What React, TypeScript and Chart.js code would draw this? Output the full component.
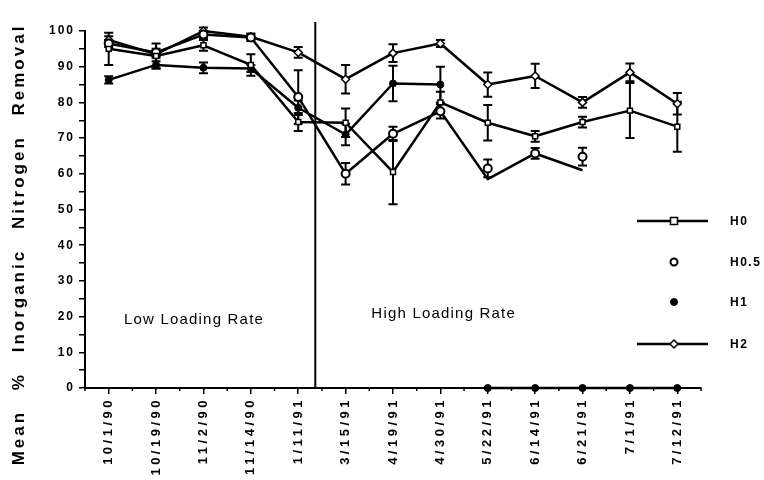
import React, { useEffect, useRef } from 'react';
import { Chart, registerables, CategoryScale, LinearScale } from 'chart.js';

// ---------- data ----------
const categories = ['10/1/90', '10/19/90', '11/2/90', '11/14/90', '1/11/91', '3/15/91', '4/19/91', '4/30/91', '5/22/91', '6/14/91', '6/21/91', '7/1/91', '7/12/91'];
const seriesNames = ['H0', 'H0.5', 'H1', 'H2'];

const h0 = [95, 93, 96, 90.5, 74.5, 74.3, 60.5, 80, 74.3, 70.5, 74.5, 77.7, 73.2];
const h0Err = [4.5, 3.5, 1.5, 3, 2.5, 4, 9, 3, 5, 1.5, 1.5, 7.7, 7];

const h05 = [96.5, 94, 99, 98.2, 81.5, 60, 71.2, 77.5, 58.5, 65.7, 61, null, null];
const h05Err = [1, 1, 1, 1, 7.5, 3, 2, 2, 0, 1.5, 0, null, null];
const h05Isolated = [null, null, null, null, null, null, null, null, 61.5, null, 64.8, null, null];
const h05IsolatedErr = [null, null, null, null, null, null, null, null, 2.5, null, 2.5, null, null];

const h1 = [86.3, 90.5, 89.7, 89.5, 78.5, 71, 85.3, 85, 0, 0, 0, 0, 0];
const h1Err = [1, 1, 1.5, 1, 2, 3, 5, 5, 0, 0, 0, 0, 0];

const h2 = [97.5, 93.5, 100, 98.4, 94, 86.5, 93.8, 96.5, 85, 87.4, 80, 88.4, 79.6];
const h2Err = [1, 1, 1, 0.8, 1.5, 4, 2.5, 1, 3.4, 3.4, 1.5, 2.5, 3];

const yMin = 0;
const yMax = 100;
const yStep = 5;
const yLabelStep = 10;

const dividerPosition = 4.36; // category index position of the Low/High divider
const annotations = [
  { text: 'Low Loading Rate', index: 1.8, value: 19 },
  { text: 'High Loading Rate', index: 7.07, value: 20.8 },
];

// ---------- custom spaced scales ----------
class SpacedCategoryScale extends CategoryScale {
  static id = 'spacedCategory';
  static defaults = CategoryScale.defaults;
  drawLabels(chartArea: any) {
    const ctx: any = this.ctx;
    ctx.save();
    ctx.letterSpacing = '3.5px';
    super.drawLabels(chartArea);
    ctx.restore();
  }
}

class SpacedLinearScale extends LinearScale {
  static id = 'spacedLinear';
  static defaults = LinearScale.defaults;
  drawLabels(chartArea: any) {
    const ctx: any = this.ctx;
    ctx.save();
    ctx.letterSpacing = '2px';
    super.drawLabels(chartArea);
    ctx.restore();
  }
  drawTitle() {
    const ctx: any = this.ctx;
    ctx.save();
    ctx.translate(0, 35);
    ctx.letterSpacing = '3px';
    ctx.wordSpacing = '12px';
    super.drawTitle();
    ctx.restore();
  }
}

Chart.register(...registerables, SpacedCategoryScale, SpacedLinearScale);

const errorSets: any[] = [h0Err, h05Err, h1Err, h2Err, h05IsolatedErr];

const errorBarPlugin = {
  id: 'errorBars',
  beforeDatasetsDraw(chart: any) {
    const ctx = chart.ctx;
    const y = chart.scales.y;
    ctx.save();
    ctx.strokeStyle = '#000';
    ctx.lineWidth = 2;
    chart.data.datasets.forEach((ds: any, di: number) => {
      const errs = errorSets[di];
      if (!errs) return;
      const meta = chart.getDatasetMeta(di);
      meta.data.forEach((pt: any, i: number) => {
        const v = ds.data[i];
        const e = errs[i];
        if (v == null || !e) return;
        const x = pt.x;
        const yt = y.getPixelForValue(v + e);
        const yb = y.getPixelForValue(v - e);
        ctx.beginPath();
        ctx.moveTo(x, yt);
        ctx.lineTo(x, yb);
        ctx.moveTo(x - 4.5, yt);
        ctx.lineTo(x + 4.5, yt);
        ctx.moveTo(x - 4.5, yb);
        ctx.lineTo(x + 4.5, yb);
        ctx.stroke();
      });
    });
    ctx.restore();
  },
};

function drawMarker(ctx: any, style: string, x: number, y: number, r: number, fill: string, lw: number) {
  ctx.save();
  ctx.fillStyle = fill;
  ctx.strokeStyle = '#000';
  ctx.lineWidth = lw;
  ctx.beginPath();
  if (style === 'rect') {
    ctx.rect(x - r, y - r, 2 * r, 2 * r);
  } else if (style === 'rectRot') {
    ctx.moveTo(x, y - r);
    ctx.lineTo(x + r, y);
    ctx.lineTo(x, y + r);
    ctx.lineTo(x - r, y);
    ctx.closePath();
  } else {
    ctx.arc(x, y, r, 0, Math.PI * 2);
  }
  ctx.fill();
  ctx.stroke();
  ctx.restore();
}

const legendShowsLine = [true, false, false, true];
const legendRadius = [3.5, 3.5, 3.5, 4];

const decorPlugin = {
  id: 'decor',
  afterDraw(chart: any) {
    const ctx = chart.ctx;
    const x = chart.scales.x;
    const y = chart.scales.y;
    const area = chart.chartArea;
    ctx.save();
    // minor x ticks
    ctx.strokeStyle = '#000';
    ctx.lineWidth = 1.5;
    for (let i = 0; i <= categories.length; i++) {
      const px = x.getPixelForValue(i - 0.5);
      ctx.beginPath();
      ctx.moveTo(px, area.bottom);
      ctx.lineTo(px, area.bottom + 3);
      ctx.stroke();
    }
    // divider
    const dx = x.getPixelForValue(dividerPosition);
    ctx.lineWidth = 2;
    ctx.beginPath();
    ctx.moveTo(dx, area.top - 9);
    ctx.lineTo(dx, area.bottom);
    ctx.stroke();
    // annotations
    ctx.fillStyle = '#000';
    ctx.font = '15px "Liberation Sans", Arial, sans-serif';
    ctx.letterSpacing = '1.2px';
    ctx.textAlign = 'center';
    ctx.textBaseline = 'middle';
    annotations.forEach((a) => {
      ctx.fillText(a.text, x.getPixelForValue(a.index), y.getPixelForValue(a.value));
    });
    // legend
    const lx0 = 637, lx1 = 708, mx = 674, tx = 730;
    const ly = [221, 262, 302, 344];
    ctx.font = 'bold 12px "Liberation Sans", Arial, sans-serif';
    ctx.letterSpacing = '1.5px';
    ctx.textAlign = 'left';
    chart.data.datasets.slice(0, seriesNames.length).forEach((ds: any, i: number) => {
      if (legendShowsLine[i]) {
        ctx.lineWidth = 2.5;
        ctx.beginPath();
        ctx.moveTo(lx0, ly[i]);
        ctx.lineTo(lx1, ly[i]);
        ctx.stroke();
      }
      drawMarker(ctx, ds.pointStyle, mx, ly[i], legendRadius[i], ds.pointBackgroundColor, ds.pointBorderWidth);
      ctx.fillStyle = '#000';
      ctx.fillText(seriesNames[i], tx, ly[i] + 1);
    });
    ctx.restore();
  },
};

export default function App() {
  const canvasRef = useRef<HTMLCanvasElement | null>(null);

  useEffect(() => {
    document.body.style.margin = '0';
    const canvas = canvasRef.current;
    if (!canvas) return;
    const common = {
      borderColor: '#000',
      borderWidth: 2.5,
      pointBorderColor: '#000',
      tension: 0,
      clip: false as any,
      spanGaps: false,
    };
    const chart = new Chart(canvas, {
      type: 'line',
      data: {
        labels: categories,
        datasets: [
          { ...common, label: seriesNames[0], data: h0, pointStyle: 'rect', pointRadius: 3.5, pointBackgroundColor: '#fff', pointBorderWidth: 1.5 },
          {
            ...common, label: seriesNames[1], data: h05, pointStyle: 'circle', pointBackgroundColor: '#fff', pointBorderWidth: 2,
            pointRadius: (c: any) => (c.dataIndex === 8 || c.dataIndex === 10 ? 0 : 4),
          } as any,
          {
            ...common, label: seriesNames[2], data: h1, pointStyle: 'circle', pointRadius: 3.5, pointBackgroundColor: '#000', pointBorderWidth: 1,
            segment: { borderColor: (c: any) => (c.p1DataIndex === 8 ? 'rgba(0,0,0,0)' : '#000') },
          } as any,
          { ...common, label: seriesNames[3], data: h2, pointStyle: 'rectRot', pointRadius: 4, pointBackgroundColor: '#fff', pointBorderWidth: 1.5 },
          { ...common, label: 'H0.5 (unjoined)', data: h05Isolated, showLine: false, pointStyle: 'circle', pointRadius: 4, pointBackgroundColor: '#fff', pointBorderWidth: 2 },
        ],
      },
      options: {
        responsive: false,
        animation: false,
        devicePixelRatio: 1,
        layout: { padding: { top: 31, right: 63, left: 0, bottom: 0 } },
        plugins: { legend: { display: false }, tooltip: { enabled: false } },
        elements: { line: { borderJoinStyle: 'round' } },
        scales: {
          x: {
            type: 'spacedCategory' as any,
            offset: true,
            grid: { display: true, drawOnChartArea: false, offset: false, color: '#000', lineWidth: 1.5, tickLength: 6 },
            border: { display: true, color: '#000', width: 2 },
            ticks: {
              autoSkip: false,
              minRotation: 90,
              maxRotation: 90,
              padding: 3,
              color: '#000',
              font: { family: '"Liberation Sans", Arial, sans-serif', size: 13, weight: 'bold' },
            },
            afterFit: (s: any) => { s.height = 92; },
          },
          y: {
            type: 'spacedLinear' as any,
            min: yMin,
            max: yMax,
            grid: { display: true, drawOnChartArea: false, color: '#000', lineWidth: 1.5, tickLength: 6 },
            border: { display: true, color: '#000', width: 2 },
            ticks: {
              stepSize: yStep,
              padding: 4,
              color: '#000',
              font: { family: '"Liberation Sans", Arial, sans-serif', size: 12, weight: 'bold' },
              callback: (v: any) => (Number(v) % yLabelStep === 0 ? String(v) : ''),
            },
            title: {
              display: true,
              text: 'Mean % Inorganic Nitrogen Removal',
              color: '#000',
              font: { family: '"Liberation Sans", Arial, sans-serif', size: 17, weight: 'bold' },
              padding: { top: 9, bottom: 0 },
            },
            afterFit: (s: any) => { s.width = 85; },
          },
        },
      },
      plugins: [errorBarPlugin, decorPlugin],
    } as any);
    return () => chart.destroy();
  }, []);

  return (
    <div style={{ width: 764, height: 480, background: '#fff' }}>
      <canvas ref={canvasRef} width={764} height={480} style={{ display: 'block' }} />
    </div>
  );
}
